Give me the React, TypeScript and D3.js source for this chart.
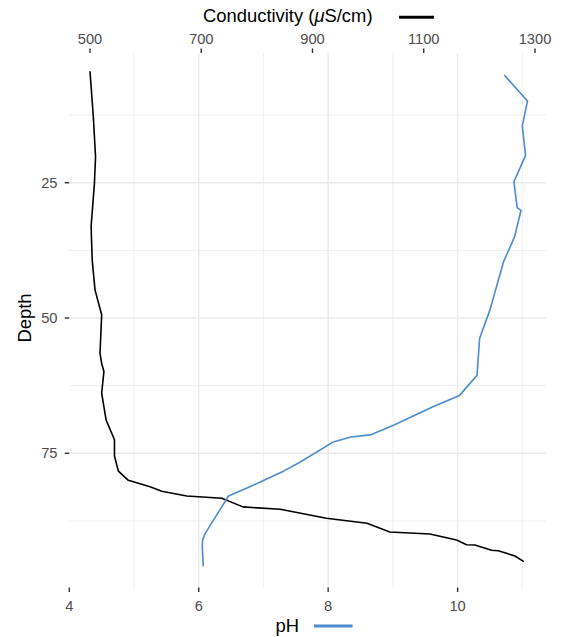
import React from "react";
import * as d3 from "d3";

// Conductivity profile (black line, top axis)
const condDepth = [4.4, 12.8, 20.2, 25.1, 33.1, 39.3, 44.8, 49.4, 56.5, 58.4, 59.9, 63.9, 68.85, 72.5, 75.5, 78.3, 80.0, 81.2, 82.0, 82.9, 83.3, 84.9, 85.35, 87.0, 87.93, 89.54, 89.91, 91.02, 91.89, 91.94, 92.92, 93.0, 93.98, 95.03];
const condValues = [500, 506, 510, 508, 502, 504, 509, 521, 518, 521, 525, 521, 529, 544, 544, 551, 569, 608, 629, 674, 737, 775, 842, 925, 998, 1039, 1111, 1159, 1177, 1192, 1222, 1234, 1264, 1280];

// pH profile (blue line, bottom axis)
const phDepth = [5.1, 9.9, 14.5, 20.0, 24.8, 29.6, 30.1, 35.0, 39.6, 48.5, 53.8, 60.6, 64.3, 66.4, 69.8, 71.6, 72.0, 72.9, 76.6, 78.3, 81.2, 82.9, 89.8, 91.0, 92.3, 95.9];
const phValues = [10.72, 11.08, 11.0, 11.05, 10.87, 10.92, 10.98, 10.88, 10.71, 10.5, 10.34, 10.3, 10.03, 9.62, 9.01, 8.65, 8.35, 8.08, 7.57, 7.31, 6.79, 6.46, 6.1, 6.06, 6.055, 6.07];

const condTicks = [500, 700, 900, 1100, 1300];
const phTicks = [4, 6, 8, 10];
const phMinor = [5, 7, 9, 11];
const depthTicks = [25, 50, 75];
const depthMinor = [12.5, 37.5, 62.5, 87.5];

const W = 570;
const H = 637;
const L = 69.3;
const R = 546;
const T = 53;
const B = 587.5;

const FONT = "'Liberation Sans', Arial, Helvetica, sans-serif";
const BLUE = "#4d8ccc";

export default function App() {
  const xPH = d3.scaleLinear().domain([4, 11.366]).range([L, R]);
  const xCond = d3.scaleLinear().domain([462.8, 1319.8]).range([L, R]);
  const y = d3.scaleLinear().domain([1.03, 99.8]).range([T, B]);

  const condLine = d3
    .line<number>()
    .x((_, i) => xCond(condValues[i]))
    .y((_, i) => y(condDepth[i]));
  const phLine = d3
    .line<number>()
    .x((_, i) => xPH(phValues[i]))
    .y((_, i) => y(phDepth[i]));

  return (
    <svg width={W} height={H} style={{ position: "absolute", left: 0, top: 0, background: "#fff" }} fontFamily={FONT}>
      {/* grid */}
      <g>
        {depthMinor.map((d) => (
          <line key={"hm" + d} x1={L} x2={R} y1={y(d)} y2={y(d)} stroke="#ebebeb" strokeWidth={0.8} />
        ))}
        {phMinor.map((d) => (
          <line key={"vm" + d} x1={xPH(d)} x2={xPH(d)} y1={T} y2={B} stroke="#ebebeb" strokeWidth={0.8} />
        ))}
        {depthTicks.map((d) => (
          <line key={"h" + d} x1={L} x2={R} y1={y(d)} y2={y(d)} stroke="#ebebeb" strokeWidth={1.5} />
        ))}
        {phTicks.filter((d) => d > 4).map((d) => (
          <line key={"v" + d} x1={xPH(d)} x2={xPH(d)} y1={T} y2={B} stroke="#ebebeb" strokeWidth={1.5} />
        ))}
      </g>

      {/* data lines */}
      <path d={condLine(condValues) || ""} fill="none" stroke="#000" strokeWidth={1.6} strokeLinejoin="round" />
      <path d={phLine(phValues) || ""} fill="none" stroke={BLUE} strokeWidth={1.6} strokeLinejoin="round" />

      {/* top axis */}
      <g>
        {condTicks.map((t) => (
          <g key={"ct" + t}>
            <line x1={xCond(t)} x2={xCond(t)} y1={T - 4.6} y2={T} stroke="#333" strokeWidth={1.4} />
            <text x={xCond(t)} y={44} textAnchor="middle" fontSize={14.7} fill="#4d4d4d">
              {t}
            </text>
          </g>
        ))}
      </g>

      {/* bottom axis */}
      <g>
        {phTicks.map((t) => (
          <g key={"pt" + t}>
            <line x1={xPH(t)} x2={xPH(t)} y1={B} y2={B + 4.6} stroke="#333" strokeWidth={1.4} />
            <text x={xPH(t)} y={611} textAnchor="middle" fontSize={14.7} fill="#4d4d4d">
              {t}
            </text>
          </g>
        ))}
      </g>

      {/* left axis */}
      <g>
        {depthTicks.map((t) => (
          <g key={"dt" + t}>
            <line x1={L - 4.6} x2={L} y1={y(t)} y2={y(t)} stroke="#333" strokeWidth={1.4} />
            <text x={57.5} y={y(t) + 5.2} textAnchor="end" fontSize={14.7} fill="#4d4d4d">
              {t}
            </text>
          </g>
        ))}
      </g>

      {/* titles */}
      <text x={203} y={22} fontSize={18.4} fill="#000">
        Conductivity (<tspan fontStyle="italic">μ</tspan>S/cm)
      </text>
      <line x1={399} x2={434} y1={17.2} y2={17.2} stroke="#000" strokeWidth={3} />

      <text x={275.5} y={632} fontSize={18.4} fill="#000">
        pH
      </text>
      <line x1={314} x2={352.5} y1={626} y2={626} stroke={BLUE} strokeWidth={3} />

      <text transform={`translate(31, ${318}) rotate(-90)`} textAnchor="middle" fontSize={18.4} fill="#000">
        Depth
      </text>
    </svg>
  );
}
